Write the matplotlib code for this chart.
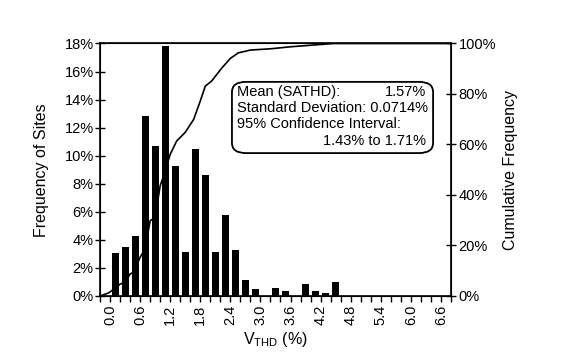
import numpy as np
import matplotlib.pyplot as plt
from matplotlib.patches import FancyBboxPatch

plt.rcParams['font.family'] = ['Liberation Sans', 'DejaVu Sans']

# histogram of V_THD (bin centres, % of sites)
bin_centers = [0.1, 0.3, 0.5, 0.7, 0.9, 1.1, 1.3, 1.5, 1.7, 1.9, 2.1, 2.3, 2.5,
               2.7, 2.9, 3.3, 3.5, 3.9, 4.1, 4.3, 4.5]
freq = [3.1, 3.5, 4.3, 12.8, 10.7, 17.8, 9.3, 3.15, 10.5, 8.65, 3.15, 5.75, 3.25,
        1.15, 0.5, 0.6, 0.35, 0.85, 0.35, 0.2, 1.0]

# cumulative frequency curve
cum_x = [-0.2, -0.03, 0.1, 0.2, 0.3, 0.4, 0.47, 0.6, 0.7, 0.8, 0.9, 1.0, 1.1, 1.2,
         1.33, 1.5, 1.67, 1.8, 1.9, 2.03, 2.23, 2.4, 2.56, 2.8, 3.2, 3.6, 4.46, 6.8]
cum_y = [0.0, 1.2, 3.0, 4.7, 5.4, 8.7, 9.4, 15.3, 18.6, 29.8, 31.1, 43.6, 49.5, 56.1,
         61.4, 64.8, 70.0, 77.2, 83.1, 85.2, 90.3, 94.1, 96.3, 97.4, 97.9, 98.7, 100.0, 100.0]

x_major = np.arange(0, 6.61, 0.6)
x_minor = np.arange(-0.2, 6.81, 0.2)
left_ticks = np.arange(0, 19, 2)
right_ticks = np.arange(0, 101, 20)

fig = plt.figure(figsize=(5.69, 3.58), dpi=100)
ax = fig.add_axes([0.1757, 0.1732, 0.6169, 0.7053])

ax.bar(bin_centers, freq, width=0.14, color='black', zorder=2)
ax.set_xlim(-0.2, 6.8)
ax.set_ylim(0, 18)
ax.set_xticks(x_major)
ax.set_xticks(x_minor, minor=True)
ax.set_xticklabels(['%.1f' % v for v in x_major], rotation=90, fontsize=10.5)
ax.set_yticks(left_ticks)
ax.set_yticklabels(['%d%%' % v for v in left_ticks], fontsize=10.5)
ax.tick_params(axis='x', which='both', direction='out', length=4, width=1, pad=2)
ax.tick_params(axis='y', direction='inout', length=7, width=1, pad=1)
ax.set_xlabel(r'$\mathregular{V_{THD}}$ (%)', fontsize=11.5, labelpad=4)
ax.set_ylabel('Frequency of Sites', fontsize=11.5, labelpad=11)
for s in ax.spines.values():
    s.set_linewidth(1.2)

ax2 = ax.twinx()
ax2.plot(cum_x, cum_y, color='black', lw=1.2)
ax2.set_ylim(0, 100)
ax2.set_yticks(right_ticks)
ax2.set_yticklabels(['%d%%' % v for v in right_ticks], fontsize=10.5)
ax2.tick_params(axis='y', direction='inout', length=7, width=1, pad=2)
ax2.set_ylabel('Cumulative Frequency', fontsize=11.5, labelpad=5)

# statistics box
box = FancyBboxPatch((0.376, 0.566), 0.573, 0.282, transform=ax2.transAxes,
                     boxstyle='round,pad=0,rounding_size=0.04', fc='white',
                     ec='black', lw=1.3, zorder=3)
ax2.add_patch(box)
fs = 10.5
ax2.text(0.389, 0.809, 'Mean (SATHD):', transform=ax2.transAxes, fontsize=fs,
         va='center', ha='left', zorder=4)
ax2.text(0.929, 0.809, '1.57%', transform=ax2.transAxes, fontsize=fs,
         va='center', ha='right', zorder=4)
ax2.text(0.389, 0.743, 'Standard Deviation: 0.0714%', transform=ax2.transAxes,
         fontsize=fs, va='center', ha='left', zorder=4)
ax2.text(0.389, 0.680, '95% Confidence Interval:', transform=ax2.transAxes,
         fontsize=fs, va='center', ha='left', zorder=4)
ax2.text(0.929, 0.614, '1.43% to 1.71%', transform=ax2.transAxes, fontsize=fs,
         va='center', ha='right', zorder=4)

fig.savefig('out.png', dpi=100)
